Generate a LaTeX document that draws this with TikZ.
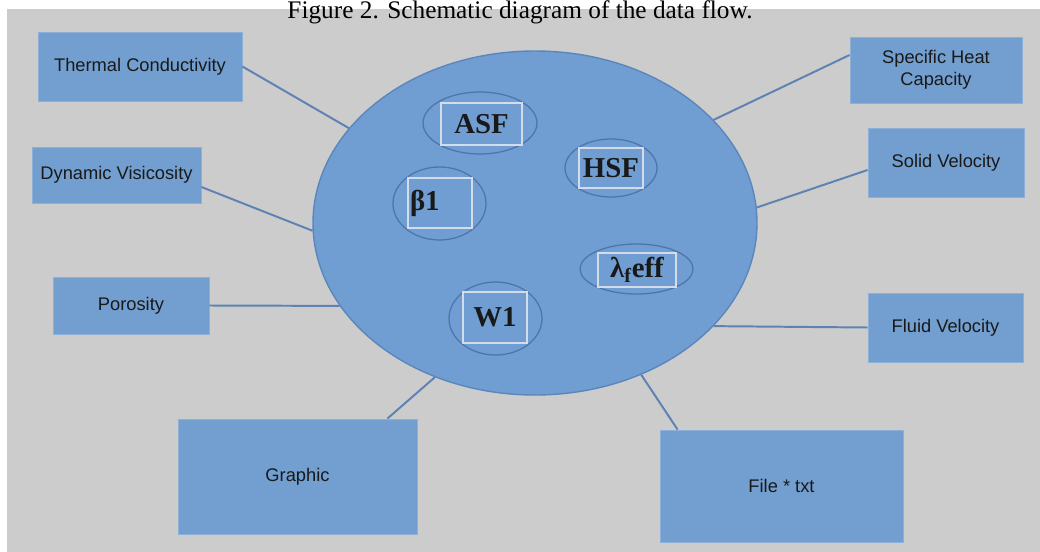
\documentclass[tikz,border=0pt]{standalone}
\usepackage{fontspec}
\setmainfont{Liberation Serif}
\newfontfamily\boxfont{Liberation Sans}
\usetikzlibrary{shapes.geometric, positioning}

\newlength\pxu
\setlength\pxu{0.025cm} % one pixel of the layout

\definecolor{panelgray}{HTML}{CCCCCC}
\definecolor{boxblue}{HTML}{729FCF}
\definecolor{boxedge}{HTML}{8DB0D8}
\definecolor{hubblue}{HTML}{709ED2}
\definecolor{hubedge}{HTML}{5A86BC}
\definecolor{ringedge}{HTML}{4C76AB}
\definecolor{tagedge}{HTML}{D3DCE8}
\definecolor{linkblue}{HTML}{5E83B3}

\begin{document}
\begin{tikzpicture}[
    x=0.025cm, y=-0.025cm, % work in pixels, y down
    box/.style={draw=boxedge, fill=boxblue, line width=0.6pt, inner sep=0pt,
        align=center, text=black!90, font=\boxfont\fontsize{13}{15.5}\selectfont}, % outer boxes
    hub/.style={ellipse, draw=hubedge, fill=hubblue, line width=1pt, inner sep=0pt}, % big ellipse
    ring/.style={ellipse, draw=ringedge, line width=0.9pt, inner sep=0pt}, % small ellipses
    tag/.style={draw=tagedge, line width=0.8pt, inner sep=0pt, text=black!90,
        font=\bfseries\fontsize{20.5}{22}\selectfont}, % frames inside the rings
    link/.style={draw=linkblue, line width=1.4pt} % connectors
]

    \useasboundingbox (0,0) rectangle (1040,552);

    % Grey panel
    \fill[panelgray] (7,9) rectangle (1040,552);

    % Caption
    \node[anchor=base, font=\fontsize{18}{20}\selectfont] (caption) at (520,18)
        {Figure 2. Schematic diagram of the data flow.};

    % Central ellipse
    \node[hub, minimum width=444\pxu, minimum height=344\pxu] (hub) at (535,223) {};

    % Outer boxes
    \node[box, minimum width=204\pxu, minimum height=69\pxu] (tc) at (140,66.5) {Thermal Conductivity};
    \node[box, minimum width=169\pxu, minimum height=56\pxu] (dv) at (116.5,175) {Dynamic Visicosity};
    \node[box, minimum width=156\pxu, minimum height=57\pxu] (poro) at (131,305.5) {Porosity};
    \node[box, minimum width=172\pxu, minimum height=66\pxu] (shc) at (936,70) {Specific Heat\\Capacity};
    \node[box, minimum width=156\pxu, minimum height=69\pxu] (sv) at (946,162.5) {Solid Velocity};
    \node[box, minimum width=155\pxu, minimum height=69\pxu] (fv) at (945.5,327.5) {Fluid Velocity};
    \node[box, minimum width=243\pxu, minimum height=112\pxu] (ft) at (781.5,486) {File * txt};
    \node[box, minimum width=239\pxu, minimum height=115\pxu] (gr) at (297.5,476.5) {Graphic};

    % Connectors
    \draw[link] (tc.east) -- (hub.153.3);
    \draw[link] ([yshift=-12\pxu]dv.east) -- (hub.182.1);
    \draw[link] (poro.east) -- (hub.203.2);
    \draw[link] ([yshift=15\pxu]shc.west) -- (hub.30.3);
    \draw[link] ([yshift=-7.5\pxu]sv.west) -- (hub.4.5);
    \draw[link] (fv.west) -- (hub.330.6);
    \draw[link] ([xshift=18\pxu]ft.north west) -- (hub.305.1);
    \draw[link] ([xshift=-30\pxu]gr.north east) -- (hub.237.5);

    % Rings inside the ellipse
    \node[ring, minimum width=114\pxu, minimum height=62\pxu] (asfRing) at (480,123) {};
    \node[ring, minimum width=92\pxu, minimum height=58\pxu] (hsfRing) at (611,168) {};
    \node[ring, minimum width=93\pxu, minimum height=73\pxu] (betaRing) at (439.5,203.5) {};
    \node[ring, minimum width=113\pxu, minimum height=50\pxu] (lamRing) at (636.5,269) {};
    \node[ring, minimum width=93\pxu, minimum height=73\pxu] (wRing) at (495.5,318.5) {};

    % Framed labels
    \node[tag, minimum width=81\pxu, minimum height=42\pxu] (asf) at (481.5,124) {ASF};
    \node[tag, minimum width=64\pxu, minimum height=40\pxu] (hsf) at (611,168) {HSF};
    \node[tag, minimum width=64\pxu, minimum height=50\pxu, text width=60\pxu, align=left] (beta) at (440,203) {β1};
    \node[tag, minimum width=78\pxu, minimum height=34\pxu] (lam) at (637,270) {λ\textsubscript{f}eff};
    \node[tag, minimum width=64\pxu, minimum height=51\pxu] (w) at (495,317.5) {W1};

\end{tikzpicture}
\end{document}
